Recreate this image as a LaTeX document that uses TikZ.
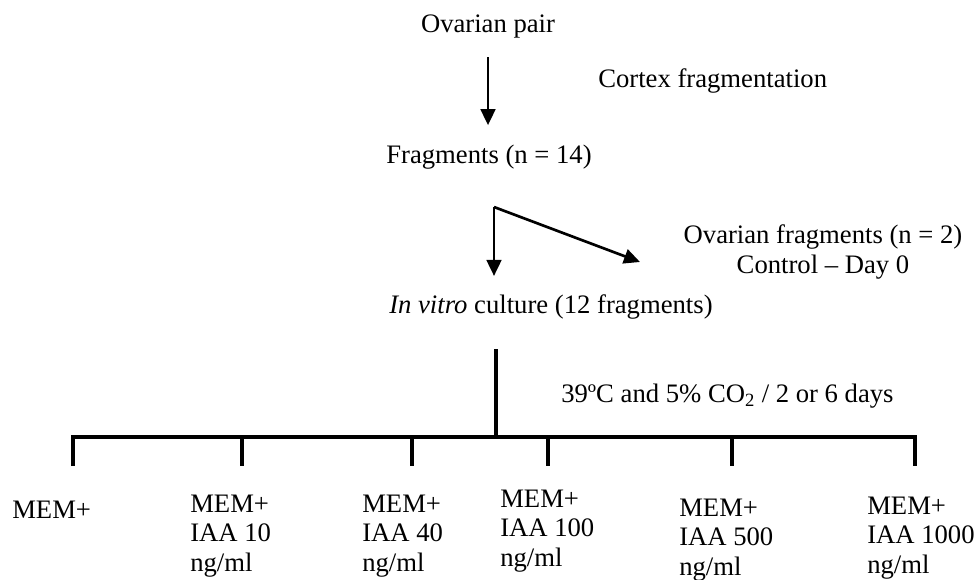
\documentclass[tikz,border=0pt]{standalone}
\usepackage{fontspec}
\setmainfont{Liberation Serif}
\usetikzlibrary{arrows.meta, positioning, calc}

\begin{document}
\begin{tikzpicture}[x=0.75pt, y=-0.75pt,
    lbl/.style={inner sep=0pt, font=\fontsize{20}{22}\selectfont},
    flow/.style={line width=2pt, -{Triangle[length=12pt,width=11pt]}},
    bar/.style={line width=2.5pt}]
    \useasboundingbox (0,0) rectangle (974,579);

    % multi-line nodes sit on the baseline of their last line
    \node[lbl, anchor=base] (pair) at (488,32) {Ovarian pair};
    \node[lbl, anchor=base west] (cortex) at (598,87) {Cortex fragmentation};
    \node[lbl, anchor=base] (frag) at (489,163) {Fragments (n = 14)};
    \node[lbl, anchor=base, align=center] (ctrl) at (823,273) {Ovarian fragments (n = 2)\\Control – Day 0};
    \node[lbl, anchor=base west] (culture) at (389,313) {\textit{In vitro} culture (12 fragments)};
    \node[lbl, anchor=base west] (cond) at (561,402) {39ºC and 5\% CO\textsubscript{2} / 2 or 6 days};

    \node[lbl, anchor=base west] (mem) at (12,518) {MEM+};
    \node[lbl, anchor=base west, align=left] (iaa10) at (190,571) {MEM+\\IAA 10\\ng/ml};
    \node[lbl, anchor=base west, align=left] (iaa40) at (362,571) {MEM+\\IAA 40\\ng/ml};
    \node[lbl, anchor=base west, align=left] (iaa100) at (500,566) {MEM+\\IAA 100\\ng/ml};
    \node[lbl, anchor=base west, align=left] (iaa500) at (679,575) {MEM+\\IAA 500\\ng/ml};
    \node[lbl, anchor=base west, align=left] (iaa1000) at (867,573) {MEM+\\IAA 1000\\ng/ml};

    \coordinate (split) at (494,207);
    \coordinate (ctrlin) at (640,262);
    \coordinate (hub) at (496,437);
    \coordinate (t1) at (73,437);
    \coordinate (t2) at (242,437);
    \coordinate (t3) at (412,437);
    \coordinate (t4) at (548,437);
    \coordinate (t5) at (732,437);
    \coordinate (t6) at (915,437);

    \draw[flow, shorten <=14.4pt, shorten >=14.3pt] (pair.south) -- (pair.south |- frag.north);
    \draw[flow, shorten >=13.5pt] (split) -- (split |- culture.north);
    \draw[flow] (split) -- (ctrlin);

    \draw[bar, shorten <=22.5pt] (culture.south -| hub) -- (hub);
    \draw[bar] ($(t1)+(0,29)$) -- (t1) -- (t6) -- ($(t6)+(0,29)$);
    \draw[bar] (t2) -- ++(0,29);
    \draw[bar] (t3) -- ++(0,29);
    \draw[bar] (t4) -- ++(0,29);
    \draw[bar] (t5) -- ++(0,29);
\end{tikzpicture}
\end{document}
